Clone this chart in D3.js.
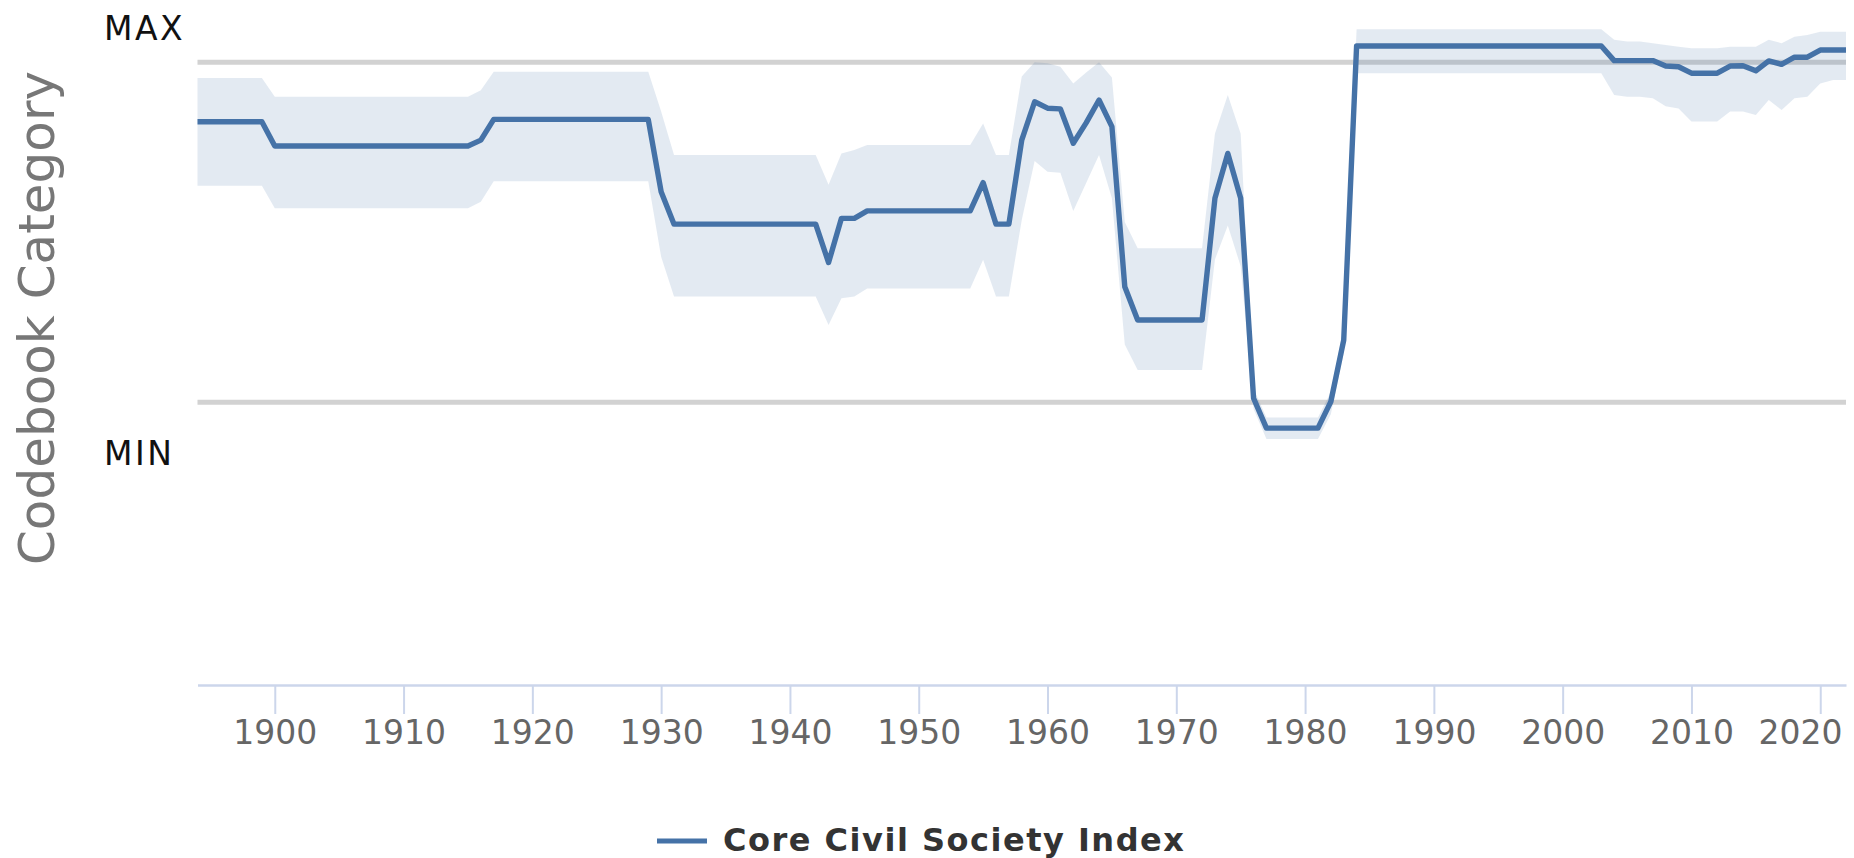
<!DOCTYPE html>
<html><head><meta charset="utf-8">
<script src="https://cdn.jsdelivr.net/npm/d3@7/dist/d3.min.js"></script>
<style>html,body{margin:0;padding:0;background:#fff;} svg{display:block;font-family:"DejaVu Sans",sans-serif;}</style>
</head><body>
<svg id="chart" width="1854" height="858"></svg>
<script>
// ---- data (values relative to codebook MIN = 0, MAX = 1) ----
const startYear = 1894;
const seriesName = "Core Civil Society Index";
const indexValues = [
  0.825,0.825,0.825,0.825,0.825,0.825,
  0.754,0.754,0.754,0.754,0.754,0.754,0.754,0.754,0.754,0.754,
  0.754,0.754,0.754,0.754,0.754,0.754,0.771,0.832,0.832,0.832,
  0.832,0.832,0.832,0.832,0.832,0.832,0.832,0.832,0.832,0.832,
  0.619,0.524,0.524,0.524,0.524,0.524,0.524,0.524,0.524,0.524,
  0.524,0.524,0.524,0.411,0.541,0.541,0.563,0.563,0.563,0.563,
  0.563,0.563,0.563,0.563,0.563,0.646,0.524,0.524,0.771,0.884,
  0.865,0.863,0.762,0.822,0.889,0.811,0.340,0.242,0.242,0.242,
  0.242,0.242,0.242,0.600,0.732,0.600,0.012,-0.076,-0.076,-0.076,
  -0.076,-0.076,0.002,0.183,1.048,1.048,1.048,1.048,1.048,1.048,
  1.048,1.048,1.048,1.048,1.048,1.048,1.048,1.048,1.048,1.048,
  1.048,1.048,1.048,1.048,1.005,1.005,1.005,1.005,0.989,0.987,
  0.968,0.968,0.968,0.989,0.990,0.975,1.004,0.994,1.015,1.015,
  1.036,1.036,1.036
];
const upperValues = [
  0.954,0.954,0.954,0.954,0.954,0.954,
  0.899,0.899,0.899,0.899,0.899,0.899,0.899,0.899,0.899,0.899,
  0.899,0.899,0.899,0.899,0.899,0.899,0.918,0.972,0.972,0.972,
  0.972,0.972,0.972,0.972,0.972,0.972,0.972,0.972,0.972,0.972,
  0.855,0.727,0.727,0.727,0.727,0.727,0.727,0.727,0.727,0.727,
  0.727,0.727,0.727,0.640,0.732,0.742,0.757,0.757,0.757,0.757,
  0.757,0.757,0.757,0.757,0.757,0.820,0.727,0.727,0.958,1.000,
  0.997,0.987,0.938,0.970,1.000,0.955,0.530,0.453,0.453,0.453,
  0.453,0.453,0.453,0.790,0.904,0.790,0.040,-0.045,-0.045,-0.045,
  -0.045,-0.045,0.030,0.220,1.097,1.097,1.097,1.097,1.097,1.097,
  1.097,1.097,1.097,1.097,1.097,1.097,1.097,1.097,1.097,1.097,
  1.097,1.097,1.097,1.097,1.066,1.061,1.061,1.056,1.051,1.046,
  1.041,1.041,1.041,1.046,1.046,1.046,1.066,1.056,1.075,1.080,
  1.090,1.090,1.090
];
const lowerValues = [
  0.637,0.637,0.637,0.637,0.637,0.637,
  0.571,0.571,0.571,0.571,0.571,0.571,0.571,0.571,0.571,0.571,
  0.571,0.571,0.571,0.571,0.571,0.571,0.590,0.650,0.650,0.650,
  0.650,0.650,0.650,0.650,0.650,0.650,0.650,0.650,0.650,0.650,
  0.428,0.311,0.311,0.311,0.311,0.311,0.311,0.311,0.311,0.311,
  0.311,0.311,0.311,0.227,0.306,0.311,0.335,0.335,0.335,0.335,
  0.335,0.335,0.335,0.335,0.335,0.419,0.311,0.311,0.536,0.710,
  0.678,0.675,0.563,0.645,0.727,0.600,0.170,0.095,0.095,0.095,
  0.095,0.095,0.095,0.420,0.520,0.400,-0.020,-0.108,-0.108,-0.108,
  -0.108,-0.108,-0.035,0.145,0.968,0.968,0.968,0.968,0.968,0.968,
  0.968,0.968,0.968,0.968,0.968,0.968,0.968,0.968,0.968,0.968,
  0.968,0.968,0.968,0.968,0.904,0.899,0.899,0.894,0.871,0.864,
  0.826,0.826,0.826,0.855,0.855,0.845,0.889,0.860,0.894,0.899,
  0.938,0.948,0.948
];
const tickYears = [1900,1910,1920,1930,1940,1950,1960,1970,1980,1990,2000,2010,2020];
const refLabels = ["MAX","MIN"];
const refValues = [1, 0];
const yTitle = "Codebook Category";

// ---- layout ----
const W = 1854, H = 858;
const plotLeft = 197.5, plotRight = 1846, axisY = 685;
const lineColor = "#4572a7";

const years = indexValues.map((_, i) => startYear + i);
const data = years.map((yr, i) => ({year: yr, v: indexValues[i], lo: lowerValues[i], hi: upperValues[i]}));

const x = d3.scaleLinear().domain([startYear, years[years.length-1]]).range([plotLeft, plotRight]);
const y = d3.scaleLinear().domain([0, 1]).range([402.3, 62.3]);

const svg = d3.select("#chart");

// reference lines MAX / MIN
svg.append("g").selectAll("line").data(refValues).join("line")
  .attr("x1", plotLeft).attr("x2", plotRight)
  .attr("y1", d => y(d)).attr("y2", d => y(d))
  .attr("stroke", "#d2d2d2").attr("stroke-width", 5);

// confidence band
svg.append("path").datum(data)
  .attr("d", d3.area().x(d => x(d.year)).y0(d => y(d.lo)).y1(d => y(d.hi)))
  .attr("fill", lineColor).attr("fill-opacity", 0.15);

// main line
svg.append("path").datum(data)
  .attr("d", d3.line().x(d => x(d.year)).y(d => y(d.v)))
  .attr("fill", "none").attr("stroke", lineColor).attr("stroke-width", 5.4)
  .attr("stroke-linejoin", "round").attr("stroke-linecap", "butt");

// x axis
const xAxis = svg.append("g").attr("transform", `translate(0,${axisY})`)
  .call(d3.axisBottom(x).tickValues(tickYears).tickFormat(d3.format("d"))
    .tickSize(29).tickSizeOuter(0).tickPadding(7));
xAxis.select(".domain").attr("stroke", "#ccd6eb").attr("stroke-width", 2.5);
xAxis.selectAll(".tick line").attr("stroke", "#ccd6eb").attr("stroke-width", 2);
xAxis.selectAll(".tick text").attr("fill", "#666").attr("font-size", 33)
  .attr("font-family", "DejaVu Sans");
// keep edge labels inside the chart (justify like the original)
xAxis.selectAll(".tick").each(function(d) {
  const t = d3.select(this).select("text");
  const bb = t.node().getBBox();
  const right = x(d) + bb.x + bb.width;
  if (right > W - 12) t.attr("dx", (W - 12) - right);
});

// MAX / MIN labels
svg.append("g").selectAll("text").data(refLabels).join("text")
  .attr("x", 104)
  .attr("y", (d, i) => i === 0 ? 39.5 : 464.5)
  .attr("font-size", 33).attr("letter-spacing", 2.5).attr("fill", "#111")
  .text(d => d);

// y axis title
svg.append("text")
  .attr("transform", `translate(54,318) rotate(-90)`)
  .attr("text-anchor", "middle").attr("font-size", 50).attr("fill", "#777")
  .text(yTitle);

// legend
const lg = svg.append("g");
lg.append("line").attr("x1", 657).attr("x2", 707).attr("y1", 841).attr("y2", 841)
  .attr("stroke", lineColor).attr("stroke-width", 5);
lg.append("text").attr("x", 723).attr("y", 851)
  .attr("font-size", 32).attr("font-weight", "bold").attr("letter-spacing", 1.5)
  .attr("fill", "#333").text(seriesName);
</script>
</body></html>
